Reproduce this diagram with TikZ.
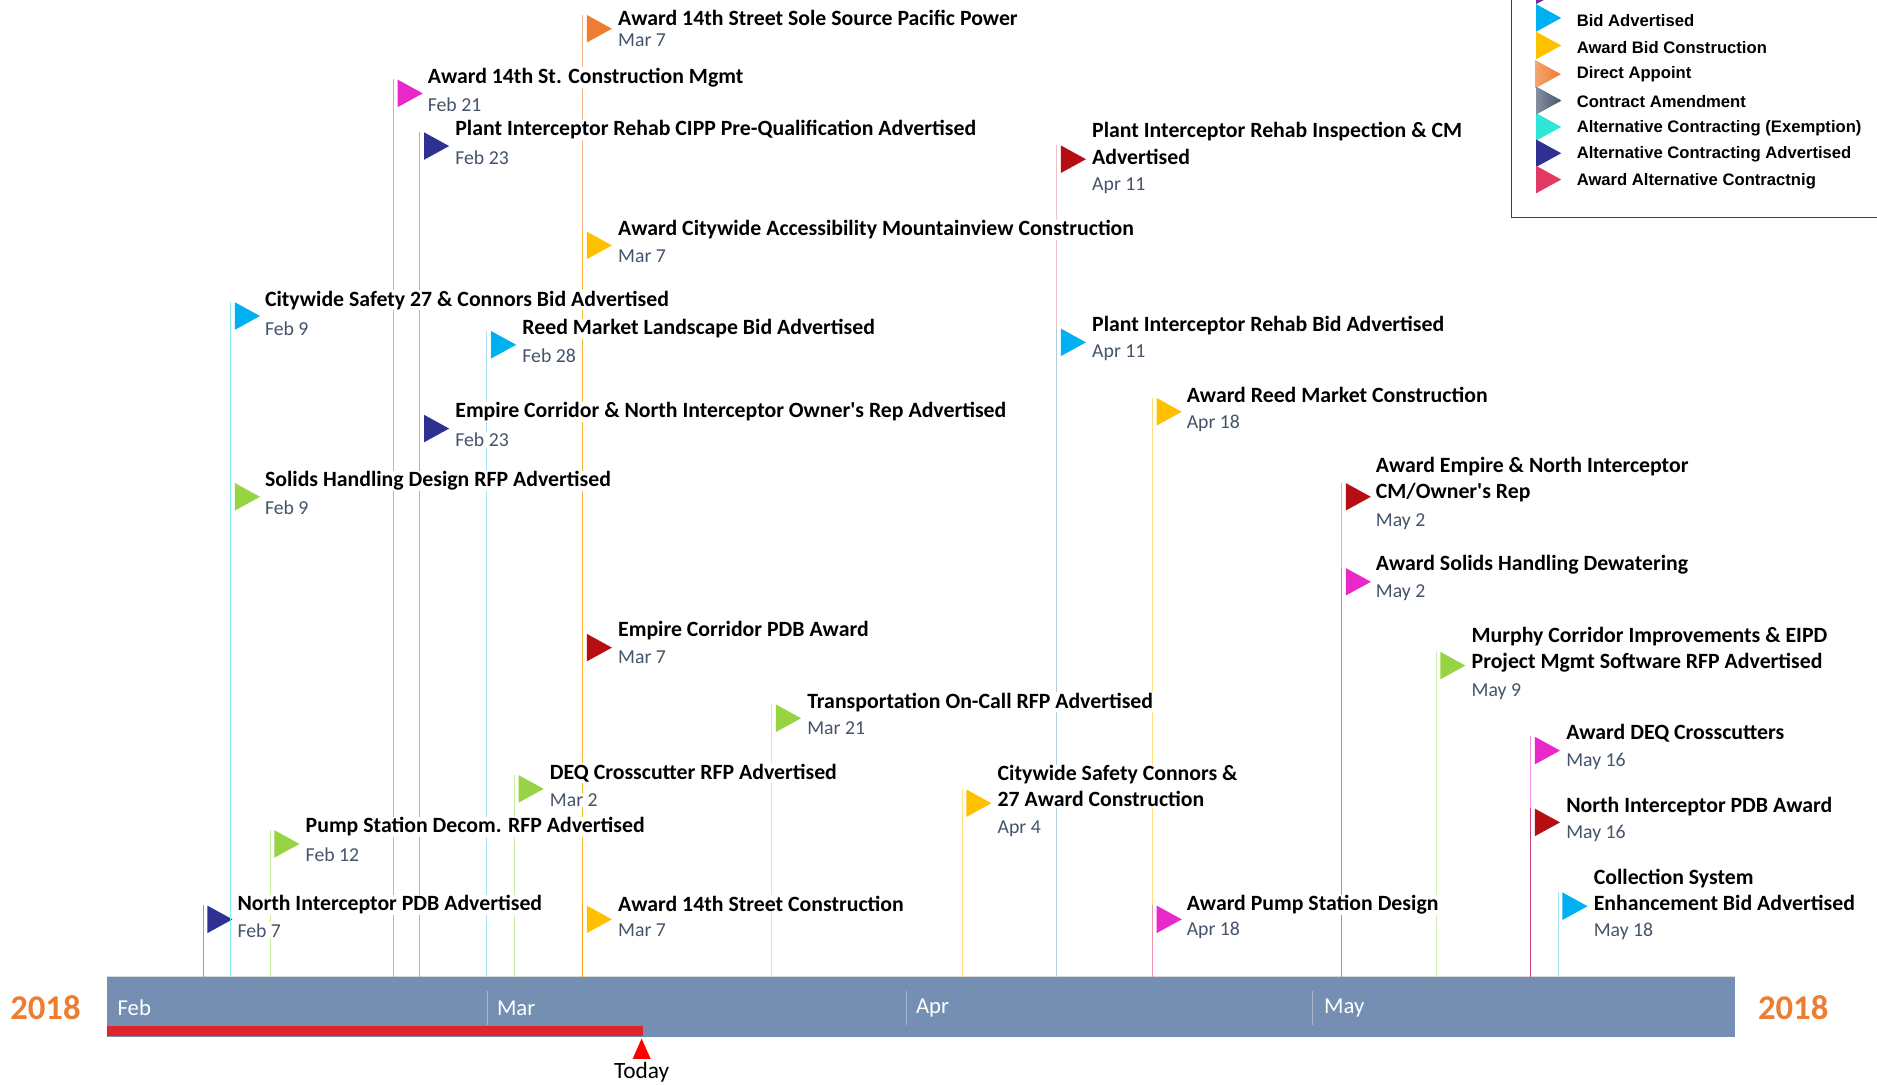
\documentclass[tikz,border=0pt]{standalone}
\usepackage{fontspec}
\setmainfont{Carlito}
\newfontfamily\legendfont{Liberation Sans}
\usepackage{tikz}
\usetikzlibrary{shapes.geometric}

\definecolor{bidblue}{HTML}{00B0F0}
\definecolor{awardyellow}{HTML}{FFC000}
\definecolor{appointorange}{HTML}{ED7D31}
\definecolor{amendslate}{HTML}{44546A}
\definecolor{exemptaqua}{HTML}{2EE6D6}
\definecolor{altnavy}{HTML}{2E3192}
\definecolor{altrose}{HTML}{E23A64}
\definecolor{designgreen}{HTML}{96D444}
\definecolor{mgmtmagenta}{HTML}{E828C8}
\definecolor{designpurple}{HTML}{7030A0}
\definecolor{pdbred}{HTML}{B50F14}
\definecolor{barblue}{HTML}{758FB3}
\definecolor{todayred}{HTML}{DE242C}
\definecolor{dategray}{HTML}{44546A}
\definecolor{stemsteel}{HTML}{B0CCE0}
\definecolor{stemcrimson}{HTML}{D04080}

\tikzset{
  flagshape/.style={isosceles triangle, isosceles triangle stretches, shape border rotate=0,
    minimum width=23pt, minimum height=21pt, inner sep=0pt, anchor=lower side, xshift=3pt, fill=#1},
  stemline/.style={draw=#1, line width=0.8pt},
  titletext/.style={anchor=west, align=left, fill=white, inner sep=0.5pt, text=black, xshift=-0.3pt, yshift=-0.8pt,
    font=\fontsize{18.2}{22}\selectfont\bfseries},
  datetext/.style={anchor=west, fill=white, inner sep=0.5pt, text=dategray, xshift=-0.3pt, yshift=-0.4pt,
    font=\fontsize{16.5}{20}\selectfont},
  monthtext/.style={anchor=west, text=white, inner sep=0pt, font=\fontsize{19}{20}\selectfont},
  yeartext/.style={text=appointorange, inner sep=0pt, font=\fontsize{29}{32}\selectfont\bfseries},
  tickline/.style={draw=white!35!barblue, line width=0.8pt},
  legendtext/.style={anchor=west, inner sep=0pt, text=black, font=\fontsize{13.9}{15}\legendfont\bfseries},
}

\begin{document}
\begin{tikzpicture}[x=1pt, y=-1pt]
  \useasboundingbox (0,0) rectangle (1568,906);

  % timeline bar
  \node (bar) [anchor=north west, fill=barblue, minimum width=1360pt, minimum height=50pt, inner sep=0pt] at (89,816) {};
  \draw[draw=black!15, line width=1pt] (bar.north west) -- (bar.north east);
  \node (todaybar) [anchor=south west, fill=todayred, minimum width=448pt, minimum height=9pt, inner sep=0pt] at (89,866) {};
  \node (yearleft) [yeartext] at (38,842) {2018};
  \node (yearright) [yeartext] at (1498,842) {2018};
  \node (feb) [monthtext] at (98,842) {Feb};
  \node (mar) [monthtext] at (415,842) {Mar};
  \node (apr) [monthtext] at (765,842) {Apr};
  \node (may) [monthtext] at (1106,842) {May};
  \draw[tickline] (407,828) -- (407,856);
  \draw[tickline] (757,828) -- (757,856);
  \draw[tickline] (1096,828) -- (1096,856);
  \node (todaymark) [isosceles triangle, isosceles triangle stretches, shape border rotate=90,
    minimum width=15pt, minimum height=17pt, inner sep=0pt, fill=red, anchor=apex] at (536,867) {};
  \node (today) [inner sep=0pt, font=\fontsize{19.5}{20}\selectfont] at (536,896) {Today};

  % flags
  \node (pacific) [flagshape=appointorange] at (487,24) {};
  \node (cmgmt) [flagshape=mgmtmagenta] at (329,78) {};
  \node (cipp) [flagshape=altnavy] at (351,122) {};
  \node (inspection) [flagshape=pdbred] at (883,133) {};
  \node (accessibility) [flagshape=awardyellow] at (487,205) {};
  \node (safetybid) [flagshape=bidblue] at (193,264) {};
  \node (landscape) [flagshape=bidblue] at (407,288) {};
  \node (rehabbid) [flagshape=bidblue] at (883,286) {};
  \node (ownerrep) [flagshape=altnavy] at (351,358) {};
  \node (reedaward) [flagshape=awardyellow] at (963,344) {};
  \node (solidsrfp) [flagshape=designgreen] at (193,415) {};
  \node (empirecm) [flagshape=pdbred] at (1121,415) {};
  \node (dewatering) [flagshape=mgmtmagenta] at (1121,486) {};
  \node (empirepdb) [flagshape=pdbred] at (487,541) {};
  \node (murphy) [flagshape=designgreen] at (1200,556) {};
  \node (oncall) [flagshape=designgreen] at (645,600) {};
  \node (deqaward) [flagshape=mgmtmagenta] at (1279,627) {};
  \node (deqrfp) [flagshape=designgreen] at (430,659) {};
  \node (connors) [flagshape=awardyellow] at (804,671) {};
  \node (northpdb) [flagshape=pdbred] at (1279,687) {};
  \node (pumprfp) [flagshape=designgreen] at (226,705) {};
  \node (collection) [flagshape=bidblue] at (1302,757) {};
  \node (northadv) [flagshape=altnavy] at (170,768) {};
  \node (street) [flagshape=awardyellow] at (487,768) {};
  \node (pumpdesign) [flagshape=mgmtmagenta] at (963,768) {};

  % stems down to the bar
  \foreach \f/\c in {pacific/appointorange!55, accessibility/awardyellow!70!appointorange!85, street/awardyellow!50!appointorange,
      cmgmt/mgmtmagenta!50, cipp/altnavy!40, inspection/pdbred!25, rehabbid/stemsteel,
      safetybid/exemptaqua!60, landscape/bidblue!35, reedaward/awardyellow!50, pumpdesign/altrose!55,
      empirecm/pdbred!35, dewatering/mgmtmagenta!70, murphy/designgreen!40, oncall/designgreen!40,
      deqaward/mgmtmagenta!50, northpdb/stemcrimson, connors/awardyellow!50,
      pumprfp/designgreen!50, deqrfp/designgreen!50, collection/bidblue!35, northadv/altnavy!50}
    \draw[stemline=\c] ([xshift=-3.2pt]\f.left corner) -- ([xshift=-3.2pt]\f.left corner |- bar.north);

  % labels
  \node (pacifict) [titletext] at (516,14.5) {Award 14th Street Sole Source Pacific Power};
  \node (pacificd) [datetext] at (516,33) {Mar 7};
  \node (cmgmtt) [titletext] at (357,64) {Award 14th St. Construction Mgmt};
  \node (cmgmtd) [datetext] at (357,87) {Feb 21};
  \node (cippt) [titletext] at (380,107.5) {Plant Interceptor Rehab CIPP Pre-Qualification Advertised};
  \node (cippd) [datetext] at (380,131) {Feb 23};
  \node (inspectiont) [titletext] at (912,119) {Plant Interceptor Rehab Inspection \& CM\\Advertised};
  \node (inspectiond) [datetext] at (912,155) {Apr 11};
  \node (accessibilityt) [titletext] at (516,191) {Award Citywide Accessibility Mountainview Construction};
  \node (accessibilityd) [datetext] at (516,214) {Mar 7};
  \node (safetybidt) [titletext] at (221,250) {Citywide Safety 27 \& Connors Bid Advertised};
  \node (safetybidd) [datetext] at (221,274) {Feb 9};
  \node (landscapet) [titletext] at (436,274) {Reed Market Landscape Bid Advertised};
  \node (landscaped) [datetext] at (436,297) {Feb 28};
  \node (rehabbidt) [titletext] at (912,271) {Plant Interceptor Rehab Bid Advertised};
  \node (rehabbidd) [datetext] at (912,294.5) {Apr 11};
  \node (ownerrept) [titletext] at (380,343) {Empire Corridor \& North Interceptor Owner\textquotesingle s Rep Advertised};
  \node (ownerrepd) [datetext] at (380,367) {Feb 23};
  \node (reedawardt) [titletext] at (991,329.5) {Award Reed Market Construction};
  \node (reedawardd) [datetext] at (991,353.5) {Apr 18};
  \node (solidsrfpt) [titletext] at (221,401) {Solids Handling Design RFP Advertised};
  \node (solidsrfpd) [datetext] at (221,424) {Feb 9};
  \node (empirecmt) [titletext] at (1149,400) {Award Empire \& North Interceptor\\CM/Owner\textquotesingle s Rep};
  \node (empirecmd) [datetext] at (1149,435) {May 2};
  \node (dewateringt) [titletext] at (1149,471) {Award Solids Handling Dewatering};
  \node (dewateringd) [datetext] at (1149,495) {May 2};
  \node (empirepdbt) [titletext] at (516,526) {Empire Corridor PDB Award};
  \node (empirepdbd) [datetext] at (516,549) {Mar 7};
  \node (murphyt) [titletext] at (1229,542) {Murphy Corridor Improvements \& EIPD\\Project Mgmt Software RFP Advertised};
  \node (murphyd) [datetext] at (1229,577) {May 9};
  \node (oncallt) [titletext] at (674,586) {Transportation On-Call RFP Advertised};
  \node (oncalld) [datetext] at (674,608) {Mar 21};
  \node (deqawardt) [titletext] at (1308,612) {Award DEQ Crosscutters};
  \node (deqawardd) [datetext] at (1308,636) {May 16};
  \node (deqrfpt) [titletext] at (459,645) {DEQ Crosscutter RFP Advertised};
  \node (deqrfpd) [datetext] at (459,668) {Mar 2};
  \node (connorst) [titletext] at (833,656) {Citywide Safety Connors \&\\27 Award Construction};
  \node (connorsd) [datetext] at (833,692) {Apr 4};
  \node (northpdbt) [titletext] at (1308,673) {North Interceptor PDB Award};
  \node (northpdbd) [datetext] at (1308,696) {May 16};
  \node (pumprfpt) [titletext] at (255,690) {Pump Station Decom. RFP Advertised};
  \node (pumprfpd) [datetext] at (255,714) {Feb 12};
  \node (collectiont) [titletext] at (1331,742.5) {Collection System\\Enhancement Bid Advertised};
  \node (collectiond) [datetext] at (1331,778) {May 18};
  \node (northadvt) [titletext] at (198,755) {North Interceptor PDB Advertised};
  \node (northadvd) [datetext] at (198,777) {Feb 7};
  \node (streett) [titletext] at (516,754) {Award 14th Street Construction};
  \node (streetd) [datetext] at (516,777) {Mar 7};
  \node (pumpdesignt) [titletext] at (991,755) {Award Pump Station Design};
  \node (pumpdesignd) [datetext] at (991,777) {Apr 18};

  % legend
  \draw[line width=0.8pt, draw=black!75] (1263,-5) -- (1263,182) -- (1573,182);
  \node (legcd) [flagshape=designpurple, xshift=-3pt] at (1283,-8) {};
  \foreach \i/\c/\y/\ty/\t in {bid/bidblue/15/17/Bid Advertised, bc/awardyellow/38/39.5/Award Bid Construction,
      ace/exemptaqua/106/107/Alternative Contracting (Exemption), aca/altnavy/128/129/Alternative Contracting Advertised,
      aac/altrose/150/151/Award Alternative Contractnig} {
    \node (leg\i) [flagshape=\c, xshift=-3pt] at (1283,\y) {};
    \node (leg\i t) [legendtext] at (1317,\ty) {\t};
  }
  \node (legda) [flagshape=appointorange, xshift=-3.5pt, left color=appointorange!70!white, middle color=appointorange, right color=appointorange] at (1283,62) {};
  \node (legdat) [legendtext] at (1317,62) {Direct Appoint};
  \node (legca) [flagshape=amendslate, xshift=-3pt, left color=amendslate!65!white, middle color=amendslate, right color=amendslate] at (1283,84) {};
  \node (legcat) [legendtext] at (1317,84.5) {Contract Amendment};
\end{tikzpicture}
\end{document}
